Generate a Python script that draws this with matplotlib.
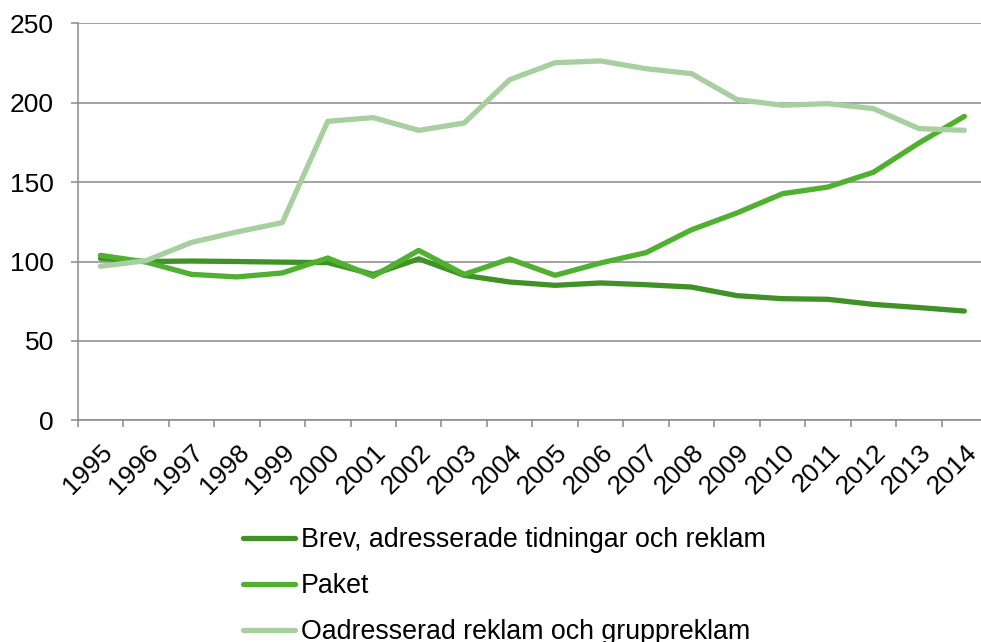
import numpy as np
import matplotlib
matplotlib.use("Agg")
import matplotlib.pyplot as plt
from matplotlib.transforms import ScaledTranslation

years = [str(y) for y in range(1995, 2015)]
brev = [102, 100, 100.3, 100, 99.6, 99.3, 91.9, 101.7, 91.3, 87.1,
        85, 86.5, 85.4, 83.9, 78.5, 76.6, 76.2, 73, 71, 68.8]
paket = [103.9, 99.7, 91.9, 90.3, 92.8, 102.2, 90.7, 107, 91.9, 101.6,
         91.3, 99.1, 105.6, 120, 130.6, 142.7, 146.9, 156.2, 174.6, 191.4]
oadr = [97, 100.5, 112, 118.6, 124.5, 188.3, 190.6, 182.6, 187.2, 214.5,
        225.2, 226.3, 221.4, 218.3, 202, 198.4, 199.4, 196.3, 183.7, 182.6]

labels = ["Brev, adresserade tidningar och reklam", "Paket",
          "Oadresserad reklam och gruppreklam"]
colors = ["#409126", "#50b030", "#a8cfa0"]

plt.rcParams['font.family'] = ['Liberation Sans', 'DejaVu Sans']
fig = plt.figure(figsize=(9.81, 6.42), dpi=100)
fig.set_facecolor('white')
ax = fig.add_axes([0.0792, 0.3453, 0.927, 0.6184])

x = np.arange(len(years))
for vals, lab, c in zip([brev, paket, oadr], labels, colors):
    ax.plot(x, vals, color=c, lw=3.8, label=lab,
            solid_capstyle='round', solid_joinstyle='round')

gc = '#898989'
ax.set_xlim(-0.5, len(years) - 0.5)
ax.set_ylim(0, 250)
ax.set_yticks(range(0, 251, 50))
ax.yaxis.grid(True, color=gc, lw=1.1)
ax.set_axisbelow(True)
for s in ['top', 'right']:
    ax.spines[s].set_visible(False)
for s in ['left', 'bottom']:
    ax.spines[s].set_color(gc)
    ax.spines[s].set_linewidth(1.1)

# tick marks between categories, labels at centres
ax.set_xticks(np.arange(-0.5, len(years), 1))
ax.set_xticklabels([])
ax.set_xticks(x, minor=True)
ax.set_xticklabels(years, minor=True, rotation=45, ha='right',
                   va='top', rotation_mode='anchor', fontsize=19)
shift = ScaledTranslation(-5 / 100, 0, fig.dpi_scale_trans)
for t in ax.get_xticklabels(minor=True):
    t.set_transform(t.get_transform() + shift)
ax.tick_params(axis='x', which='major', length=5, width=1.1, color=gc)
ax.tick_params(axis='x', which='minor', length=0, pad=14)
ax.tick_params(axis='y', length=5, width=1.1, color=gc, pad=12,
               labelsize=19)

# legend below the plot; last row is clipped by the figure edge as in the original
fig.legend(loc='upper left', bbox_to_anchor=(243 / 981, 0.179),
           frameon=False, fontsize=19.3, handlelength=1.95,
           handletextpad=0.2, labelspacing=0.745, borderpad=0,
           borderaxespad=0)

fig.savefig('out.png', dpi=100, facecolor='white')
